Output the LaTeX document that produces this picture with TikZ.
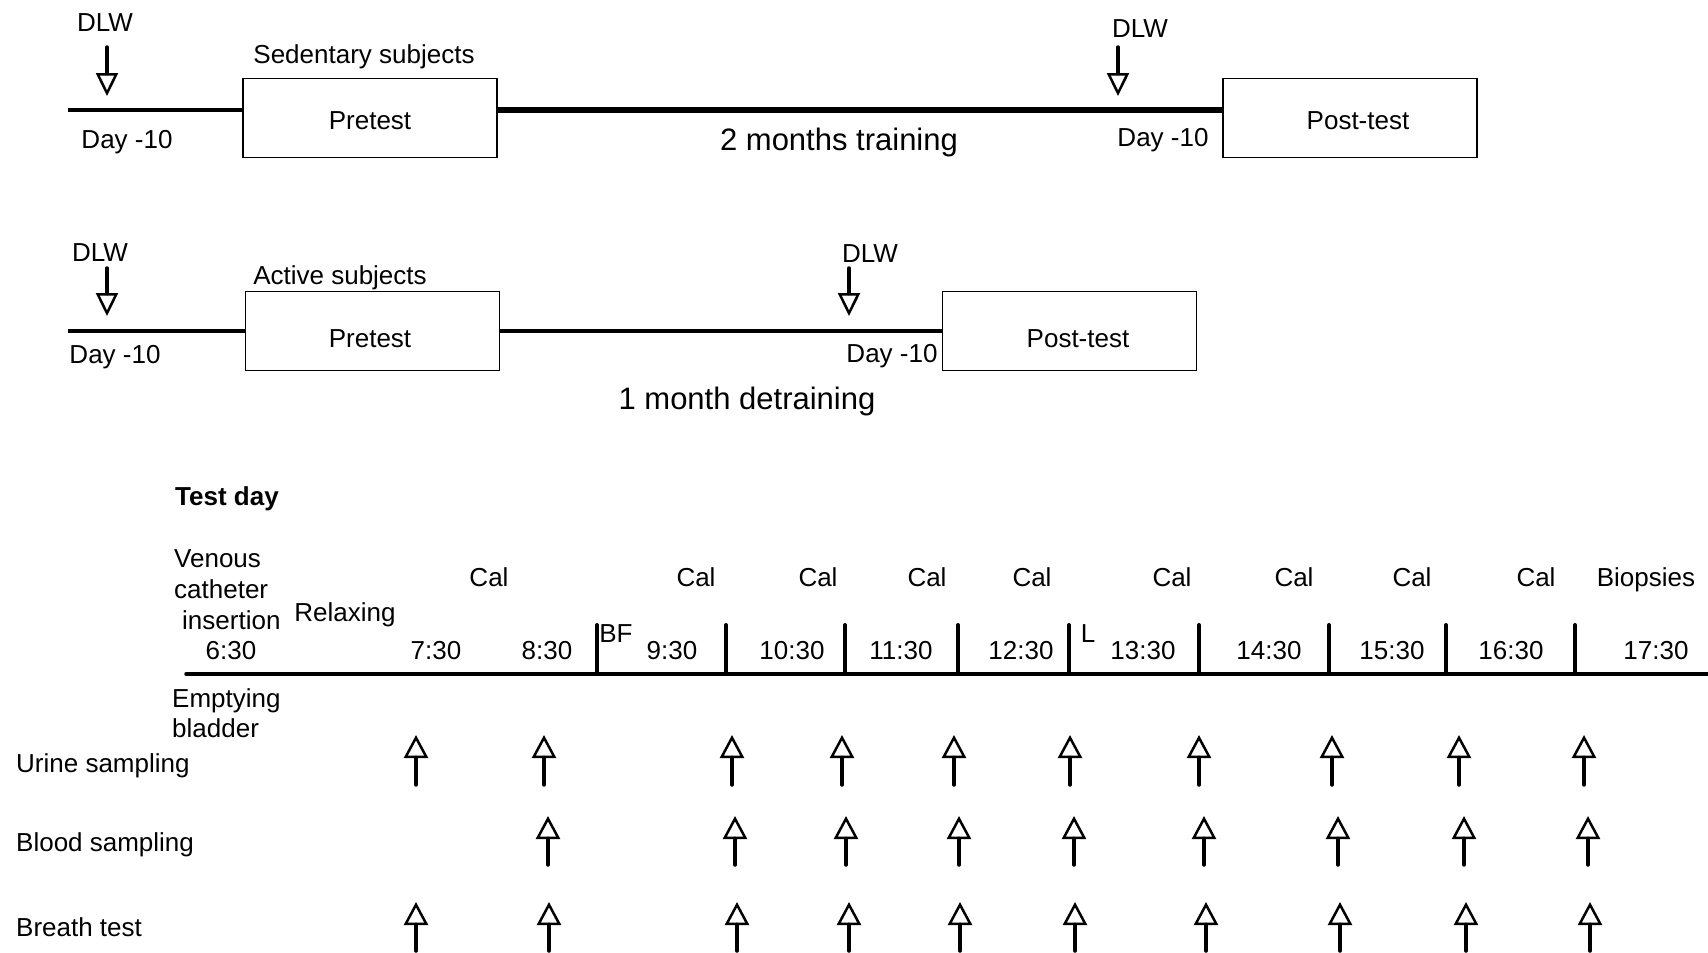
\documentclass[tikz,border=0pt]{standalone}
\usepackage{fontspec}
\setmainfont{Liberation Sans}
\usetikzlibrary{arrows.meta}
\begin{document}
\begin{tikzpicture}[x=1pt,y=-1pt,
  txt/.style={inner sep=0pt, text height=18.6pt, text depth=0pt, font=\fontsize{26}{30}\selectfont},
  bigtxt/.style={inner sep=0pt, text height=22.2pt, text depth=0pt, font=\fontsize{31}{36}\selectfont},
  boxnode/.style={draw, line width=1.8pt, minimum width=254pt, minimum height=79pt, inner sep=0pt},
  thinline/.style={line width=3.5pt},
  thickline/.style={line width=5.5pt},
  dlwarrow/.style={line width=3.5pt, line cap=round, -{Triangle[open, length=23pt, width=22pt, line width=2.5pt]}},
  samparrow/.style={line width=3.5pt, line cap=round, -{Triangle[open, length=23pt, width=24pt, line width=2.5pt]}},
  tickline/.style={line width=4pt, line cap=round},
]
\fill[white] (0,0) rectangle (1708,953);
\useasboundingbox (0,0) rectangle (1708,953);

% ---------- Sedentary subjects ----------
\coordinate (s1) at (68,110);
\node[boxnode] (pre1) at (370,118) {};
\node[txt] (pre1t) at (370,120) {Pretest};
\node[boxnode] (post1) at (1350,118) {};
\node[txt] (post1t) at (1358,120) {Post-test};
\draw[thinline] (s1) -- (s1 -| pre1.west);
\draw[thickline] (s1 -| pre1.east) -- (s1 -| post1.west);
\node[txt] (sed) at (364,54) {Sedentary subjects};
\node[txt] (dlw1) at (105,22) {DLW};
\coordinate (d1a) at (107,47); \coordinate (d1b) at (107,96);
\draw[dlwarrow] (d1a) -- (d1b);
\node[txt] (day1) at (127,139) {Day -10};
\node[txt] (dlw2) at (1140,28) {DLW};
\coordinate (d2a) at (1118,47); \coordinate (d2b) at (1118,96);
\draw[dlwarrow] (d2a) -- (d2b);
\node[txt] (day2) at (1163,137) {Day -10};
\node[bigtxt] (train) at (839,139) {2 months training};

% ---------- Active subjects ----------
\coordinate (s2) at (68,331);
\node[boxnode] (pre2) at (372.5,331) {};
\node[txt] (pre2t) at (370,338) {Pretest};
\node[boxnode] (post2) at (1069.5,331) {};
\node[txt] (post2t) at (1078,338) {Post-test};
\draw[thinline] (s2) -- (s2 -| pre2.west);
\draw[thinline] (s2 -| pre2.east) -- (s2 -| post2.west);
\node[txt] (act) at (340,275) {Active subjects};
\node[txt] (dlw3) at (100,252) {DLW};
\coordinate (d3a) at (107,268); \coordinate (d3b) at (107,316);
\draw[dlwarrow] (d3a) -- (d3b);
\node[txt] (day3) at (115,354) {Day -10};
\node[txt] (dlw4) at (870,253) {DLW};
\coordinate (d4a) at (849,268); \coordinate (d4b) at (849,316);
\draw[dlwarrow] (d4a) -- (d4b);
\node[txt] (day4) at (892,353) {Day -10};
\node[bigtxt] (detrain) at (747,398) {1 month detraining};

% ---------- Test day ----------
\node[txt, font=\fontsize{26}{30}\selectfont\bfseries, anchor=west] (testday) at (175,496) {Test day};
\node[txt, anchor=west] (ven) at (174,558) {Venous};
\node[txt, anchor=west] (cat) at (174,589) {catheter};
\node[txt, anchor=west] (ins) at (182,620) {insertion};
\node[txt] (t630) at (231,650) {6:30};
\node[txt] (relax) at (345,612) {Relaxing};
\node[txt, anchor=west] (empt) at (172,698) {Emptying};
\node[txt, anchor=west] (blad) at (172,728) {bladder};

\coordinate (tl0) at (186,674);
\coordinate (tl1) at (1708,674);
\draw[thinline, line cap=round] (tl0) -- (tl1);

\foreach \x [count=\i] in {597,726,845,958,1069,1199,1329,1446,1575} {
  \coordinate (tk\i) at (\x,625);
  \draw[tickline] (tk\i) -- (tk\i |- tl0);
}
\node[txt] (bf) at (616,633) {BF};
\node[txt] (lun) at (1088,633) {L};

\foreach \x [count=\i] in {489,696,818,927,1032,1172,1294,1412,1536} {
  \node[txt] (cal\i) at (\x,577) {Cal};
}
\node[txt] (biop) at (1646,577) {Biopsies};

\foreach \x/\t [count=\i] in {436/7:30,547/8:30,672/9:30,792/10:30,901/11:30,1021/12:30,1143/13:30,1269/14:30,1392/15:30,1511/16:30,1656/17:30} {
  \node[txt] (tm\i) at (\x,650) {\t};
}

\node[txt, anchor=west] (urine) at (16,763) {Urine sampling};
\node[txt, anchor=west] (blood) at (16,842) {Blood sampling};
\node[txt, anchor=west] (breath) at (16,927) {Breath test};

\foreach \x [count=\i] in {416,544,732,842,954,1070,1199,1332,1459,1584} {
  \coordinate (ua\i) at (\x,785); \coordinate (ub\i) at (\x,735);
  \draw[samparrow] (ua\i) -- (ub\i);
}
\foreach \x [count=\i] in {548,735,846,959,1074,1204,1338,1464,1588} {
  \coordinate (ba\i) at (\x,865); \coordinate (bb\i) at (\x,816);
  \draw[samparrow] (ba\i) -- (bb\i);
}
\foreach \x [count=\i] in {416,549,737,849,960,1075,1206,1340,1466,1590} {
  \coordinate (ra\i) at (\x,951); \coordinate (rb\i) at (\x,902);
  \draw[samparrow] (ra\i) -- (rb\i);
}
\end{tikzpicture}
\end{document}
